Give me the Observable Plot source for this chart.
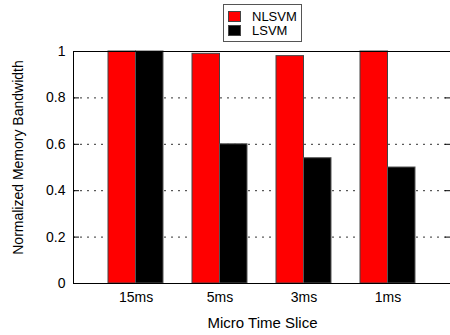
<!DOCTYPE html>
<html>
<head>
<meta charset="utf-8">
<script src="https://cdn.jsdelivr.net/npm/d3@7"></script>
<script src="https://cdn.jsdelivr.net/npm/@observablehq/plot@0.6"></script>
<style>
  body { margin: 0; background: #fff; font-family: "Liberation Sans", Arial, sans-serif; }
  #wrap { position: relative; width: 450px; height: 335px; overflow: hidden; }
  #chart { position: absolute; left: 0; top: 0; }
  #legend { position: absolute; left: 223px; top: 4px; width: 77px; height: 36px; border: 1px solid #555; background: #fff; }
  .item { position: absolute; left: 4px; height: 12px; font-size: 13px; line-height: 12px; color: #000; }
  .sw { position: absolute; left: 0; top: 0; width: 13px; height: 11px; border: 1px solid #444; box-sizing: border-box; }
  .lbl { position: absolute; left: 24px; top: 0; white-space: nowrap; }
</style>
</head>
<body>
<div id="wrap">
  <div id="chart"></div>
  <div id="legend"></div>
</div>
<script>
const slices = ["15ms", "5ms", "3ms", "1ms"];
const series = ["NLSVM", "LSVM"];
const nlsvm = [1, 0.99, 0.98, 1];
const lsvm = [1, 0.6, 0.54, 0.5];
const colors = ["#ff0000", "#000000"];
const yTicks = [0, 0.2, 0.4, 0.6, 0.8, 1];
const xTitle = "Micro Time Slice";
const yTitle = "Normalized Memory Bandwidth";

const rowsA = slices.map((s, i) => ({slice: s, series: series[0], value: nlsvm[i]}));
const rowsB = slices.map((s, i) => ({slice: s, series: series[1], value: lsvm[i]}));

const W = 450, H = 335, mL = 73, mR = -1, mT = 51, mB = 52;
const innerW = W - mL - mR;

function make(half) {
  return Plot.plot({
    width: W,
    height: H,
    marginLeft: mL,
    marginRight: mR,
    marginTop: mT,
    marginBottom: mB,
    style: {fontFamily: "'Liberation Sans', Arial, sans-serif", fontSize: "14px", background: "#fff"},
    x: {domain: slices, paddingInner: 0.34, paddingOuter: 0.405, axis: null},
    y: {domain: [0, 1], axis: null},
    marks: [
      Plot.gridY(yTicks.filter(d => d > 0 && d < 1), {stroke: "#333", strokeOpacity: 1, strokeDasharray: "2,5"}),
      Plot.barY(rowsA, {x: "slice", y: "value", fill: colors[0], stroke: "#444", strokeWidth: 1, insetRight: half}),
      Plot.barY(rowsB, {x: "slice", y: "value", fill: colors[1], stroke: "#555", strokeWidth: 1, insetLeft: half}),
      Plot.ruleY(yTicks, {stroke: "#000", insetRight: innerW - 6}),
      Plot.ruleY(yTicks, {stroke: "#000", insetLeft: innerW - 6}),
      Plot.frame({stroke: "#000"}),
      Plot.axisY({ticks: yTicks, tickSize: 0, tickPadding: 8, tickFormat: d => String(d), fontSize: 14, label: null}),
      Plot.axisX({tickSize: 0, tickPadding: 9, fontSize: 14, label: null}),
      Plot.text([xTitle], {frameAnchor: "bottom", dy: 44, fontSize: 15, text: d => d}),
      Plot.text([yTitle], {frameAnchor: "left", textAnchor: "middle", dx: -55, dy: -10, rotate: -90, fontSize: 14, text: d => d})
    ]
  });
}

const probe = make(0);
const bw = probe.scale("x").bandwidth;
const chart = make(bw / 2);
document.getElementById("chart").appendChild(chart);

const legend = document.getElementById("legend");
series.forEach((name, i) => {
  const item = document.createElement("div");
  item.className = "item";
  item.style.top = (6 + i * 14) + "px";
  const sw = document.createElement("div");
  sw.className = "sw";
  sw.style.background = colors[i];
  const lbl = document.createElement("div");
  lbl.className = "lbl";
  lbl.textContent = name;
  item.appendChild(sw);
  item.appendChild(lbl);
  legend.appendChild(item);
});
</script>
</body>
</html>
